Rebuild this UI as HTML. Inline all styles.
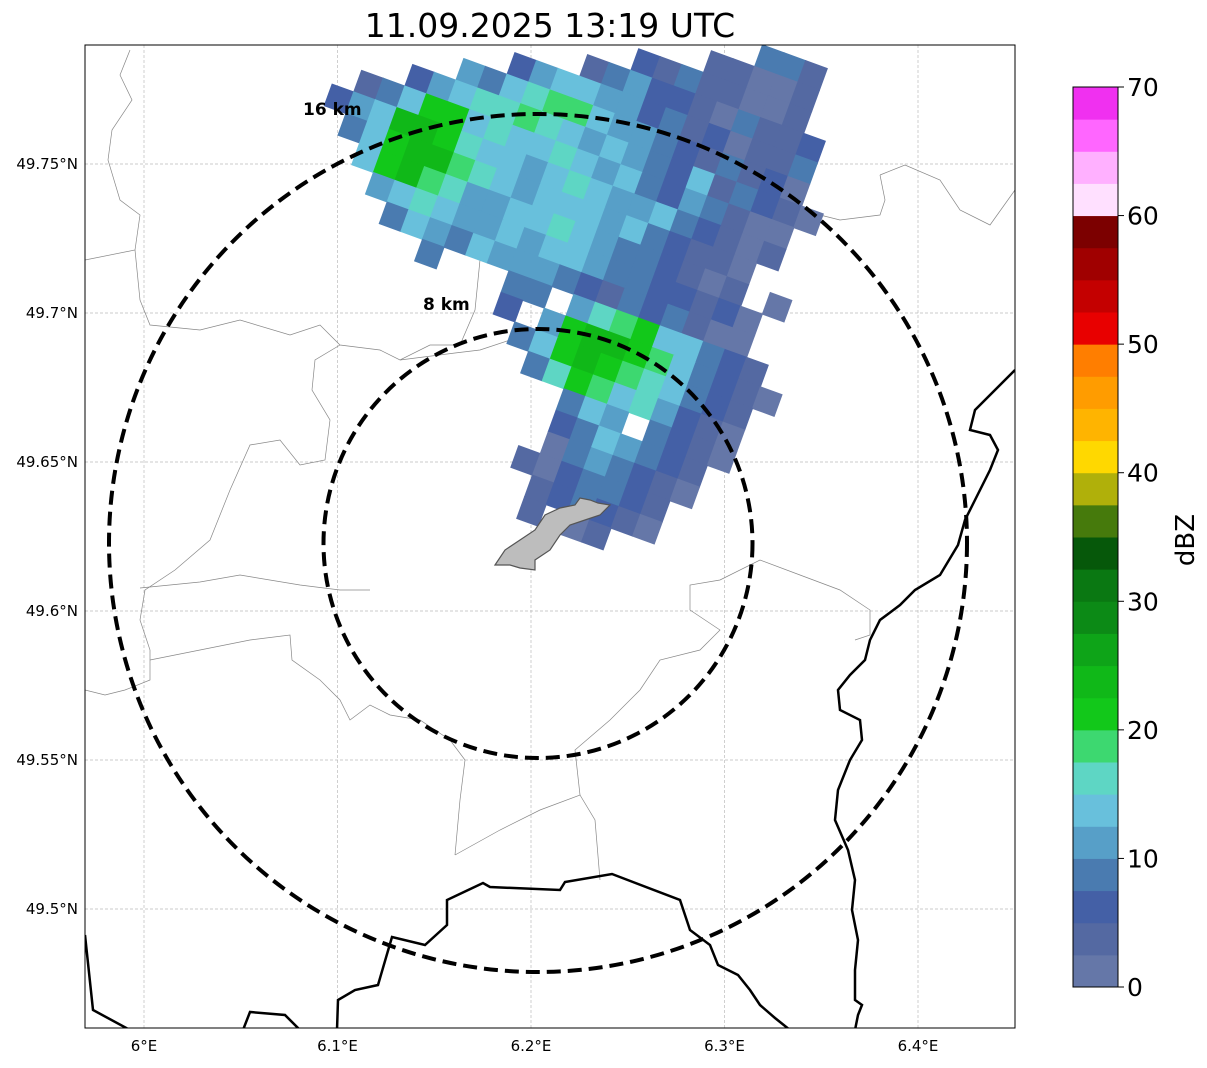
<!DOCTYPE html>
<html><head><meta charset="utf-8"><style>
body{margin:0;background:#fff;width:1207px;height:1064px;overflow:hidden;font-family:"DejaVu Sans","Liberation Sans",sans-serif}
</style></head><body>
<svg id="chart" width="1207" height="1064" xmlns="http://www.w3.org/2000/svg" font-family="DejaVu Sans, Liberation Sans, sans-serif">
<text x="550" y="37" font-size="33" text-anchor="middle">11.09.2025 13:19 UTC</text>
<defs><clipPath id="plotclip"><rect x="85" y="45" width="930" height="983"/></clipPath></defs>
<g id="grid"></g>
<g clip-path="url(#plotclip)">
<g fill="none" stroke="#888" stroke-width="0.7">
<path d="M130,50 L120,75 L132,100 L112,130 L108,160 L120,200 L140,215 L135,250 L85,260"/>
<path d="M135,250 L140,300 L150,325 L200,330 L240,320 L290,335 L320,325 L340,345 L380,350 L400,360 L430,345 L460,345 L475,310 L480,260 L520,255 L530,230"/>
<path d="M340,345 L315,360 L312,390 L330,420 L325,460 L300,465 L280,440 L250,445 L230,490 L210,540 L175,570 L145,590 L140,620 L150,650 L150,680 L125,690 L105,695 L85,690"/>
<path d="M140,588 L200,582 L240,575 L300,585 L340,590 L370,590"/>
<path d="M150,660 L200,650 L250,640 L290,635 L292,660 L320,680 L340,700 L350,720 L370,705 L390,715 L420,720 L450,740 L465,760 L460,800 L455,855"/>
<path d="M455,855 L500,830 L540,810 L580,795 L595,820 L600,880"/>
<path d="M580,795 L575,750 L610,720 L640,690 L660,660 L700,650 L720,630 L690,610 L690,585 L720,580 L760,560 L800,575 L840,590 L870,610 L870,635 L855,640"/>
<path d="M400,360 L455,353 L480,350 L510,340 L560,330 L600,320"/>
<path d="M880,175 L885,200 L880,215 L840,220 L800,210 L760,200"/>
<path d="M880,175 L905,165 L940,180 L960,210 L990,225 L1015,190"/>
</g>
<g id="radar"></g>
<path d="M495,565 L505,550 L520,540 L535,530 L545,515 L560,508 L575,505 L580,498 L590,500 L598,503 L610,505 L600,515 L585,520 L570,525 L560,535 L550,550 L535,560 L535,570 L520,568 L510,565 Z" fill="#bdbdbd" stroke="#555" stroke-width="1.2"/>
<g fill="none" stroke="#000" stroke-width="2.5">
<path d="M1015,370 L1000,385 L975,410 L970,430 L990,435 L998,450 L990,470 L975,500 L965,520 L958,545 L940,575 L915,590 L900,605 L880,620 L870,640 L865,660 L850,675 L838,690 L840,710 L860,720 L862,740 L850,760 L838,790 L835,820 L848,850 L855,880 L852,910 L858,940 L855,970 L855,1000 L862,1005 L858,1015 L855,1030"/>
<path d="M85,935 L93,1010 L130,1030"/>
<path d="M243,1030 L250,1012 L285,1015 L300,1030"/>
<path d="M337,1030 L338,1000 L355,990 L378,985 L392,937 L425,945 L447,925 L447,900 L483,883 L490,887 L560,890 L565,882 L612,874 L680,900 L690,930 L710,945 L718,965 L738,975 L750,990 L760,1005 L775,1018 L790,1030"/>
</g>
<ellipse cx="538" cy="543" rx="429" ry="429" fill="none" stroke="#000" stroke-width="4" stroke-dasharray="14,7"/>
<ellipse cx="538" cy="543.5" rx="214.5" ry="214.5" fill="none" stroke="#000" stroke-width="4" stroke-dasharray="14,7"/>
</g>
<text x="303" y="115" font-size="17" font-weight="bold">16 km</text>
<text x="423" y="310" font-size="17" font-weight="bold">8 km</text>
<rect x="85" y="45" width="930" height="983" fill="none" stroke="#000" stroke-width="1"/>
<g id="ticks" font-size="15"></g>
<g id="cbar"></g>
<text transform="translate(1194,540) rotate(-90)" font-size="26" text-anchor="middle">dBZ</text>
</svg>
<script>
const NS='http://www.w3.org/2000/svg';
const lonTicks=[6.0,6.1,6.2,6.3,6.4];
const lonLabels=['6°E','6.1°E','6.2°E','6.3°E','6.4°E'];
const latTicks=[49.75,49.7,49.65,49.6,49.55,49.5];
const latLabels=['49.75°N','49.7°N','49.65°N','49.6°N','49.55°N','49.5°N'];
const cbTicks=[0,10,20,30,40,50,60,70];
const cbColors=['#6577a8','#5469a2','#4460a6','#4a7bb0','#579fc8','#68c0dc','#5ed6c4','#3dd870','#12c81a','#10b818','#0ea418','#0c8a16','#0a7812','#06580a','#467a0c','#b0b00a','#ffd800','#ffb400','#ff9c00','#ff7e00','#e80000','#c40000','#a00000','#7c0000','#ffe0ff','#ffb0ff','#ff66ff','#f030f0'];
// radar cells: letter = dBZ bin (a=0-2.5, b=2.5-5, ...), '.' = no echo
const radarRows=[
".................ddb...",
"...............bbaab...",
"............cbdbbaab...",
"..........bdeccbadbbc..",
".......ceffeecdbcabbd..",
".....edfghhfeedcbdbca..",
"...cefgghgfefedcfbdcba.",
".bdfiifgffgfefdcedbaa..",
"cefjjigffefgfeefdcbab..",
".dfijjhgfefffefdcbba...",
"..fijhgeeffgfeddcbab.a.",
"...efgfeefeffeddccbca..",
"....dfedfeeedcbdcdbaa..",
"......d...dd.eghiffdcb.",
"..........c.eijjihfdcba",
"...........dfijihgfdcb.",
"............dgihfgecba.",
"..............dfe.dcba.",
"..............cdfedcb..",
"..............adedcba..",
".............bacddcb...",
"..............bcdcba...",
"..............b.ab....."];
function xOf(lon){return 144+(lon-6.0)*1935;}
function yOf(lat){return 164+(49.75-lat)*2980;}
function cbY(v){return 987-v*900/70;}
const grid=document.getElementById('grid');
lonTicks.forEach((t,i)=>{const l=document.createElementNS(NS,'line');


const x=xOf(t);l.setAttribute('x1',x);l.setAttribute('x2',x);l.setAttribute('y1',45);l.setAttribute('y2',1028);l.setAttribute('stroke','#bbb');l.setAttribute('stroke-width','0.7');l.setAttribute('stroke-dasharray','3,2');grid.appendChild(l);
const tx=document.createElementNS(NS,'text');


tx.setAttribute('x',x);tx.setAttribute('y',1051);tx.setAttribute('text-anchor','middle');tx.textContent=lonLabels[i];document.getElementById('ticks').appendChild(tx);});
latTicks.forEach((t,i)=>{const l=document.createElementNS(NS,'line');


const y=yOf(t);l.setAttribute('x1',85);l.setAttribute('x2',1015);l.setAttribute('y1',y);l.setAttribute('y2',y);l.setAttribute('stroke','#bbb');l.setAttribute('stroke-width','0.7');l.setAttribute('stroke-dasharray','3,2');grid.appendChild(l);
const tx=document.createElementNS(NS,'text');


tx.setAttribute('x',78);tx.setAttribute('y',y+5);tx.setAttribute('text-anchor','end');tx.textContent=latLabels[i];document.getElementById('ticks').appendChild(tx);});
// radar cells on rotated grid
const radar=document.getElementById('radar');
const th=20*Math.PI/180,cs=23,ox=352,oy=28,v0=-125;
radarRows.forEach((row,r)=>{for(let c=0;c<row.length;c++){const ch=row[c];if(ch==='.')continue;
const k=ch.charCodeAt(0)-97;const u=c*cs,v=v0+r*cs;
const x=ox+u*Math.cos(th)-v*Math.sin(th),y=oy+u*Math.sin(th)+v*Math.cos(th);
const rc=document.createElementNS(NS,'rect');


rc.setAttribute('x',0);rc.setAttribute('y',0);rc.setAttribute('width',cs+1);rc.setAttribute('height',cs+1);rc.setAttribute('fill',cbColors[k]);
rc.setAttribute('transform',`translate(${x},${y}) rotate(20)`);radar.appendChild(rc);}});
// colorbar
const cb=document.getElementById('cbar');
cbColors.forEach((col,i)=>{const a=i*2.5,b=(i+1)*2.5;
const r=document.createElementNS(NS,'rect');


r.setAttribute('x',1073);r.setAttribute('y',cbY(b));r.setAttribute('width',45);r.setAttribute('height',cbY(a)-cbY(b)+0.5);r.setAttribute('fill',col);cb.appendChild(r);});
const fr=document.createElementNS(NS,'rect');


fr.setAttribute('x',1073);fr.setAttribute('y',87);fr.setAttribute('width',45);fr.setAttribute('height',900);fr.setAttribute('fill','none');fr.setAttribute('stroke','#000');cb.appendChild(fr);
cbTicks.forEach(t=>{const y=cbY(t);const l=document.createElementNS(NS,'line');


l.setAttribute('x1',1118);l.setAttribute('x2',1124);l.setAttribute('y1',y);l.setAttribute('y2',y);l.setAttribute('stroke','#000');cb.appendChild(l);
const tx=document.createElementNS(NS,'text');


tx.setAttribute('x',1127);tx.setAttribute('y',y+9);tx.setAttribute('font-size','25');tx.textContent=t;cb.appendChild(tx);});
</script>
</body></html>
